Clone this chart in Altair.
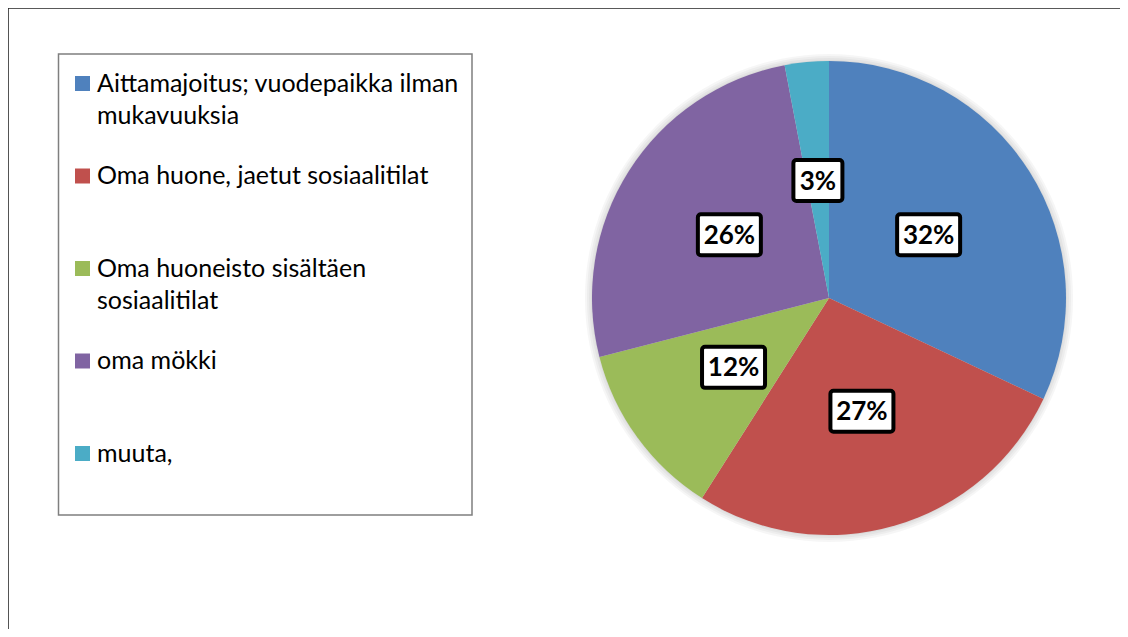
import altair as alt
import pandas as pd

# ---- data ----
categories = [
    "Aittamajoitus; vuodepaikka ilman mukavuuksia",
    "Oma huone, jaetut sosiaalitilat",
    "Oma huoneisto sisältäen sosiaalitilat",
    "oma mökki",
    "muuta,",
]
values = [32, 27, 12, 26, 3]
colors = ["#4F81BD", "#C0504D", "#9BBB59", "#8064A2", "#4BACC6"]
legend_lines = [
    ["Aittamajoitus; vuodepaikka ilman", "mukavuuksia"],
    ["Oma huone, jaetut sosiaalitilat"],
    ["Oma huoneisto sisältäen", "sosiaalitilat"],
    ["oma mökki"],
    ["muuta,"],
]

pie_df = pd.DataFrame({"category": categories, "value": values, "order": list(range(len(values)))})
items_df = pd.DataFrame({"category": categories, "item": list(range(len(categories)))})
lines_df = pd.DataFrame(
    [
        {"category": categories[i], "item": i, "line": j, "text": t}
        for i, ls in enumerate(legend_lines)
        for j, t in enumerate(ls)
    ]
)

# ---- layout ----
W, H = 1112, 621
CX, CY, R, LR = 821, 290, 237, 118
FONT = "Lato"

color = alt.Color(
    "category:N", scale=alt.Scale(domain=categories, range=colors), legend=None
)
one = alt.Data(values=[{}])

# soft shadow behind the pie
shadow = alt.layer(
    *[
        alt.Chart(one)
        .mark_arc(radius=R + k, fill="#000000", opacity=0.035)
        .encode(theta=alt.value(0), theta2=alt.value(6.2832), x=alt.value(CX), y=alt.value(CY))
        for k in (7, 5, 3, 1)
    ]
)

pie = (
    alt.Chart(pie_df)
    .mark_arc(radius=R)
    .encode(
        theta=alt.Theta("value:Q", stack=True),
        color=color,
        order=alt.Order("order:Q"),
        x=alt.value(CX),
        y=alt.value(CY),
    )
)

lab_base = (
    alt.Chart(pie_df)
    .transform_joinaggregate(total="sum(value)")
    .transform_window(cum="sum(value)", sort=[alt.SortField("order")], frame=[None, 0])
    .transform_calculate(
        ang="(datum.cum - datum.value / 2) / datum.total * 2 * PI",
        label="datum.value + '%'",
    )
    .transform_calculate(
        lx=f"{CX} + {LR} * sin(datum.ang)",
        ly=f"{CY} - {LR} * cos(datum.ang)",
        bw="21 + 14 * length(datum.label)",
    )
    .transform_calculate(
        bx1="datum.lx - datum.bw / 2",
        bx2="datum.lx + datum.bw / 2",
        by1="datum.ly - 20.5",
        by2="datum.ly + 20.5",
    )
)

boxes = lab_base.mark_rect(
    fill="white", stroke="black", strokeWidth=4, cornerRadius=3
).encode(
    x=alt.X("bx1:Q", scale=None, axis=None),
    x2="bx2:Q",
    y=alt.Y("by1:Q", scale=None, axis=None),
    y2="by2:Q",
)

texts = lab_base.mark_text(
    font=FONT, fontWeight="bold", fontSize=26, color="black", baseline="middle", dy=1
).encode(
    x=alt.X("lx:Q", scale=None, axis=None),
    y=alt.Y("ly:Q", scale=None, axis=None),
    text="label:N",
)

# legend
leg_box = (
    alt.Chart(one)
    .mark_rect(fill="white", stroke="#7f7f7f", strokeWidth=1.5)
    .encode(x=alt.value(50.5), x2=alt.value(464), y=alt.value(46), y2=alt.value(507))
)

leg_sq = (
    alt.Chart(items_df)
    .transform_calculate(sy="75.5 + 92.5 * datum.item")
    .mark_square(size=225, opacity=1)
    .encode(x=alt.value(74.5), y=alt.Y("sy:Q", scale=None, axis=None), color=color)
)

leg_txt = (
    alt.Chart(lines_df)
    .transform_calculate(ty="75.5 + 92.5 * datum.item + 32.5 * datum.line")
    .mark_text(align="left", baseline="middle", font=FONT, fontSize=25, color="black")
    .encode(x=alt.value(89), y=alt.Y("ty:Q", scale=None, axis=None), text="text:N")
)

# outer frame (top and left edges)
frame_top = alt.Chart(one).mark_rule(color="#595959", strokeWidth=1.2).encode(
    x=alt.value(0), x2=alt.value(W), y=alt.value(0.5)
)
frame_left = alt.Chart(one).mark_rule(color="#262626", strokeWidth=1.5).encode(
    x=alt.value(0), y=alt.value(0), y2=alt.value(H)
)

chart = (
    alt.layer(shadow, pie, boxes, texts, leg_box, leg_sq, leg_txt, frame_top, frame_left)
    .properties(width=W, height=H, padding=0, autosize=alt.AutoSizeParams(type="none"))
    .configure_view(stroke=None)
    .configure(background="white")
)

chart.save("out.html", embed_options={"renderer": "svg", "actions": False})
